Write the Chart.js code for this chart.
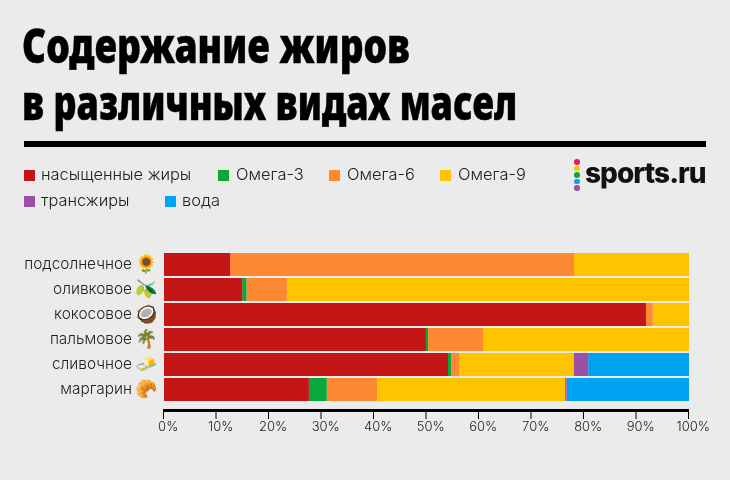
<!DOCTYPE html>
<html lang="ru"><head><meta charset="utf-8">
<style>
html,body{margin:0;padding:0;background:#ebebeb;width:730px;height:480px;overflow:hidden}
#c{position:absolute;left:0;top:0}
.t{position:absolute;white-space:nowrap;color:#000}
.title{left:22px;font:900 48px "Noto Sans",sans-serif;-webkit-text-stroke:.5px #000;transform-origin:0 0;line-height:50px}
.lg{font:300 16.4px Inter,sans-serif;color:#222;line-height:18px}
.sw{position:absolute;width:10.5px;height:10.5px}
.dot{position:absolute;width:5.5px;height:5.5px;border-radius:50%;left:574px}
</style></head><body>
<canvas id="c" width="730" height="480"></canvas>
<div class="t title" style="top:20px" id="t1">Содержание жиров</div>
<div class="t title" style="top:77px" id="t2">в различных видах масел</div>
<div style="position:absolute;left:24px;top:141px;width:682px;height:6px;background:#000"></div>
<div id="legend"></div>
<div class="dot" style="top:159px;background:#ec1c5b"></div>
<div class="dot" style="top:165.5px;background:#ffc400"></div>
<div class="dot" style="top:172px;background:#0aa83c"></div>
<div class="dot" style="top:178.5px;background:#00a2f2"></div>
<div class="dot" style="top:185px;background:#9b4fa5"></div>
<div class="t" style="left:585px;top:156px;font:800 28px Inter,sans-serif;letter-spacing:-1px;color:#111;line-height:34px">sports.ru</div>
<script src="https://cdn.jsdelivr.net/npm/chart.js@4"></script>
<script>
const categories=["подсолнечное","оливковое","кокосовое","пальмовое","сливочное","маргарин"];
const emoji=["🌻","🫒","🥥","🌴","🧈","🥐"];
const seriesNames=["насыщенные жиры","Омега-3","Омега-6","Омега-9","трансжиры","вода"];
const seriesColors=["#c41616","#0aa83c","#ff8833","#ffc400","#9b4fa5","#00a2f2"];
const saturated=[12.6,14.9,91.8,49.9,54.1,27.6];
const omega3=[0,0.8,0,0.4,0.6,3.4];
const omega6=[65.5,7.7,1.3,10.5,1.5,9.6];
const omega9=[21.9,76.6,6.9,39.2,21.8,35.8];
const trans=[0,0,0,0,2.8,0.3];
const water=[0,0,0,0,19.2,23.3];
const seriesValues=[saturated,omega3,omega6,omega9,trans,water];
const xTicks=[0,10,20,30,40,50,60,70,80,90,100];

[['t1',388],['t2',495]].forEach(([id,w])=>{const e=document.getElementById(id);e.style.transform=`scaleX(${w/e.offsetWidth})`;});

const legendPos=[[24,170,41],[218,170,236],[329,170,347],[440,170,458],[24,196,41],[165,196,182]];
const lg=document.getElementById('legend');
seriesNames.forEach((n,i)=>{const [sx,sy,tx]=legendPos[i];
 lg.insertAdjacentHTML('beforeend',`<div class="sw" style="left:${sx}px;top:${sy}px;background:${seriesColors[i]}"></div><div class="t lg" style="left:${tx}px;top:${sy-5}px">${n}</div>`);});

const axisPlugin={id:'axisLine',afterDraw(ch){
 const c=ch.ctx,x=ch.scales.x,y=ch.scales.y;
 c.save();c.fillStyle='#000';
 const l=x.getPixelForValue(0),r=x.getPixelForValue(100);
 c.fillRect(l-0.5,409,r-l,3);
 xTicks.forEach(v=>c.fillRect(x.getPixelForValue(v)-1,409,1,10));
 c.font='18px "Noto Color Emoji",sans-serif';c.textAlign='center';c.textBaseline='middle';
 emoji.forEach((e,i)=>c.fillText(e,147,y.getPixelForValue(i)));
 c.restore();
}};
new Chart(document.getElementById('c'),{type:'bar',
 data:{labels:categories,datasets:seriesNames.map((n,i)=>({label:n,data:seriesValues[i],backgroundColor:seriesColors[i],borderWidth:0,barPercentage:0.92,categoryPercentage:1}))},
 options:{indexAxis:'y',responsive:false,animation:false,
  layout:{padding:{top:252,right:41,left:0,bottom:0}},
  plugins:{legend:{display:false},title:{display:false},tooltip:{enabled:false}},
  scales:{
   x:{stacked:true,min:0,max:100,grid:{display:false},border:{display:false},
      afterFit(s){s.height=78},
      afterBuildTicks(s){s.ticks=xTicks.map(v=>({value:v}))},
      ticks:{autoSkip:false,maxRotation:0,padding:9,color:'#222',font:{family:'Inter',size:13,weight:300},callback:v=>'\u2007'+v+'%'}},
   y:{stacked:true,grid:{display:false},border:{display:false},
      afterFit(s){s.width=164},
      ticks:{autoSkip:false,padding:24,color:'#222',font:{family:'Inter',size:15.4,weight:300}}}
  }},plugins:[axisPlugin]});
</script></body></html>
